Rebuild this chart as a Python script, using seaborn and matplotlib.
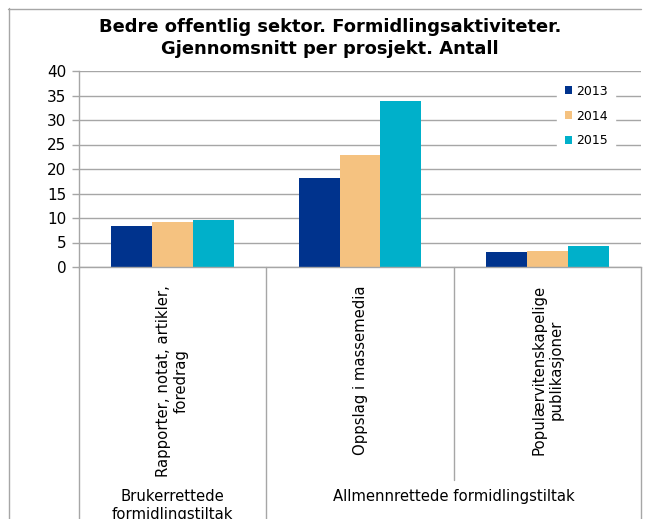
import numpy as np
import pandas as pd
import matplotlib
matplotlib.use("Agg")
import matplotlib.pyplot as plt
from matplotlib.lines import Line2D
import seaborn as sns

sns.set_theme(style="white")
plt.rcParams['font.family'] = 'DejaVu Sans'
plt.rcParams['text.color'] = 'black'
plt.rcParams['axes.labelcolor'] = 'black'
plt.rcParams['xtick.color'] = 'black'
plt.rcParams['ytick.color'] = 'black'

# data
categories = ["Rapporter, notat, artikler,\nforedrag",
              "Oppslag i massemedia",
              "Populærvitenskapelige\npublikasjoner"]
years = ["2013", "2014", "2015"]
v2013 = [8.4, 18.2, 3.1]
v2014 = [9.2, 22.9, 3.3]
v2015 = [9.6, 33.9, 4.2]
groups = ["Brukerrettede\nformidlingstiltak", "Allmennrettede formidlingstiltak"]
colors = ["#00338D", "#F5C280", "#00B0CA"]

df = pd.DataFrame({
    "kat": categories * 3,
    "aar": [y for y in years for _ in categories],
    "verdi": v2013 + v2014 + v2015,
})

grid_c = "#A6A6A6"

fig = plt.figure(figsize=(6.46, 5.19), dpi=100)
W, H = 646, 519
ax = fig.add_axes([79 / W, 1 - 267 / H, 562 / W, 196 / H])

sns.barplot(data=df, x="kat", y="verdi", hue="aar", order=categories,
            hue_order=years, palette=colors, width=0.655, gap=0,
            linewidth=0, saturation=1, ax=ax, legend=True)

ax.set_xlim(-0.5, 2.5)
ax.set_ylim(0, 40)
ax.set_yticks(np.arange(0, 41, 5))
ax.yaxis.grid(True, color=grid_c, linewidth=1)
ax.set_axisbelow(True)
ax.set_xlabel("")
ax.set_ylabel("")
for s in ["top", "right"]:
    ax.spines[s].set_visible(False)
for s in ["left", "bottom"]:
    ax.spines[s].set_color(grid_c)
    ax.spines[s].set_linewidth(1)
ax.tick_params(axis="y", left=True, length=5, width=1, color=grid_c,
               labelsize=11, pad=4, labelcolor="black")
ax.tick_params(axis="x", bottom=False, length=0, pad=13, labelsize=10.7,
               labelcolor="black")
ax.set_xticks(range(len(categories)))
ax.set_xticklabels(categories, rotation=90, va="top", ha="center",
                   multialignment="center")

# category / group separators below the axis
tr = ax.get_xaxis_transform()
for x, y_end in [(-0.5, -1.3), (0.5, -1.3), (1.5, -1.087), (2.5, -1.3)]:
    ax.add_line(Line2D([x, x], [0, y_end], transform=tr, color=grid_c,
                       linewidth=1, clip_on=False))
ax.text(0, -1.135, groups[0], transform=tr, ha="center", va="top",
        fontsize=10.7, multialignment="center", color="black")
ax.text(1.5, -1.135, groups[1], transform=tr, ha="center", va="top",
        fontsize=10.7, color="black")

leg = ax.legend(loc="upper left", bbox_to_anchor=(0.84, 1.0),
                frameon=True, fancybox=False, framealpha=1,
                facecolor="white", edgecolor="white", fontsize=9,
                handlelength=0.6, handleheight=0.6, handletextpad=0.3,
                labelspacing=0.95, borderpad=0.6)
for t in leg.get_texts():
    t.set_color("black")

fig.suptitle("Bedre offentlig sektor. Formidlingsaktiviteter.\n"
             "Gjennomsnitt per prosjekt. Antall",
             x=330 / W, y=1 - 18 / H, va="top", fontsize=12.9,
             fontweight="bold", linespacing=1.3, color="black")

# outer chart frame
fig.add_artist(Line2D([8 / W, 641 / W], [1 - 8.5 / H, 1 - 8.5 / H],
                      transform=fig.transFigure, color=grid_c, linewidth=1))
fig.add_artist(Line2D([8.5 / W, 8.5 / W], [1 - 8 / H, 0],
                      transform=fig.transFigure, color=grid_c, linewidth=1))

fig.savefig("out.png", dpi=100)
